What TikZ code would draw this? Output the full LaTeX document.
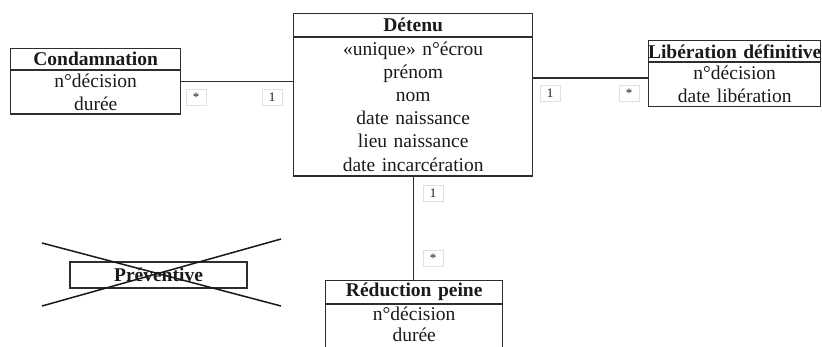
\documentclass[tikz,border=0pt]{standalone}
\usepackage{fontspec}
\setmainfont{Liberation Serif}
\usetikzlibrary{shapes.multipart}

\definecolor{umlLine}{HTML}{2E2E2E}
\definecolor{umlText}{HTML}{1A1A1A}

\begin{document}
\begin{tikzpicture}[x=1pt,y=-1pt,
    classbox/.style={rectangle split,rectangle split parts=2,draw=umlLine,
      line width=1.4pt,anchor=north west,inner xsep=0pt,inner ysep=3pt,
      align=center,text=umlText,font=\fontsize{19.5}{23.2}\selectfont},
    mult/.style={draw=black!12,line width=0.6pt,fill=white,text=umlText,
      font=\fontsize{13}{14}\selectfont,minimum width=20pt,minimum height=16pt,
      inner sep=0pt},
    assoc/.style={umlLine,line width=1.4pt}]
  \useasboundingbox (0,0) rectangle (822,346);
  \clip (0,0) rectangle (822,346);

  % classes
  \node[classbox,text width=239pt,inner ysep=4pt] (detenu) at (293,13)
    {\textbf{Détenu}\nodepart{two}«unique» n°écrou\\prénom\\nom\\date naissance\\lieu naissance\\date incarcération};
  \node[classbox,text width=170pt] (condamnation) at (10,48)
    {\textbf{Condamnation}\nodepart{two}n°décision\\durée};
  \node[classbox,text width=172pt] (liberation) at (648,40)
    {\makebox[\linewidth]{\textbf{Libération définitive}}\nodepart{two}n°décision\\date libération};
  \node[classbox,text width=177pt,inner ysep=2pt,
    font=\fontsize{19.5}{21}\selectfont] (reduction) at (325,280)
    {\textbf{Réduction\ peine}\nodepart{two}n°décision\\durée\vphantom{$\big|$}};

  % associations
  \coordinate (libEnd) at (648,78);
  \draw[assoc] (condamnation.east) -- (condamnation.east -| detenu.west);
  \draw[assoc] (libEnd) -- (libEnd -| detenu.east);
  \draw[assoc] (detenu.south) -- (detenu.south |- reduction.north);

  % multiplicities
  \node[mult] (mCond) at (196,97) {*};
  \node[mult] (mDetL) at (272,97) {1};
  \node[mult] (mDetR) at (550,93) {1};
  \node[mult] (mLib) at (629,93) {*};
  \node[mult] (mDetB) at (433,193) {1};
  \node[mult] (mRed) at (433,258) {*};

  % crossed-out class
  \node[draw=umlLine,line width=1.1pt,minimum width=177pt,minimum height=26pt,
    inner sep=0pt,text=umlText,font=\fontsize{19.5}{22.5}\selectfont\bfseries]
    (preventive) at (158.5,275) {Préventive};
  \draw[black!90,line width=1.5pt] (42,243) -- (281,306);
  \draw[black!90,line width=1.5pt] (42,306) -- (281,239);
\end{tikzpicture}
\end{document}
